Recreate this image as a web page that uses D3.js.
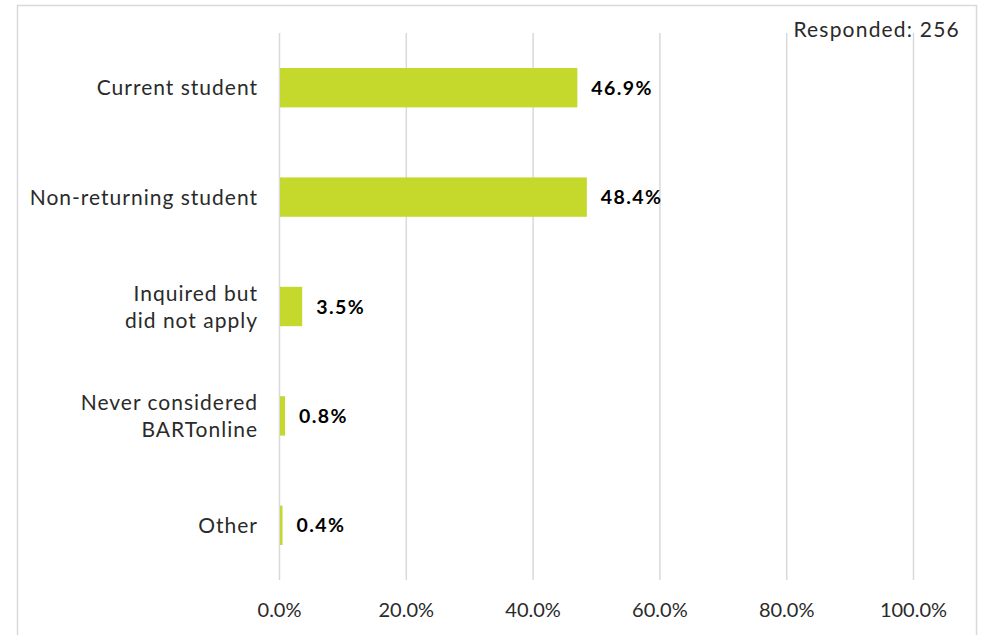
<!DOCTYPE html>
<html>
<head>
<meta charset="utf-8">
<script src="https://cdn.jsdelivr.net/npm/d3@7"></script>
<style>
  html, body { margin: 0; padding: 0; background: #fff; }
  svg text { font-family: "Lato", "DejaVu Sans", sans-serif; }
</style>
</head>
<body>
<svg id="chart" width="982" height="635"></svg>
<script>
// Survey responses by student status
const categories = [
  ["Current student"],
  ["Non-returning student"],
  ["Inquired but", "did not apply"],
  ["Never considered", "BARTonline"],
  ["Other"]
];
const values = [46.9, 48.4, 3.5, 0.8, 0.4];
const valueLabels = ["46.9%", "48.4%", "3.5%", "0.8%", "0.4%"];
const tickValues = [0, 20, 40, 60, 80, 100];
const tickLabels = ["0.0%", "20.0%", "40.0%", "60.0%", "80.0%", "100.0%"];
const responded = "Responded: 256";

const svg = d3.select("#chart");
const margin = { top: 33, left: 279, right: 69, bottom: 55 };
const W = 982, H = 635;

// outer frame
svg.append("rect")
  .attr("x", 17.5).attr("y", 5.5)
  .attr("width", 959).attr("height", 640)
  .attr("fill", "none").attr("stroke", "#d9d9d9").attr("stroke-width", 1.5);

const x = d3.scaleLinear().domain([0, 100]).range([margin.left, W - margin.right]);
const y = d3.scaleBand().domain(d3.range(categories.length))
  .range([margin.top, H - margin.bottom]).paddingInner(0.64).paddingOuter(0.32);

// vertical gridlines
svg.append("g").selectAll("line").data(tickValues).join("line")
  .attr("x1", d => x(d) + 0.5).attr("x2", d => x(d) + 0.5)
  .attr("y1", margin.top).attr("y2", H - margin.bottom)
  .attr("stroke", "#d9d9d9").attr("stroke-width", 1.5);

// x axis tick labels
const xAxis = d3.axisBottom(x).tickValues(tickValues)
  .tickFormat((d, i) => tickLabels[i]).tickSize(0).tickPadding(0);
const gx = svg.append("g").attr("transform", `translate(0, 617)`).call(xAxis);
gx.select(".domain").remove();
gx.selectAll("text").attr("font-size", 20).attr("fill", "#2a2a2a")
  .attr("y", 0).attr("dy", 0)
  .style("font-family", "Lato, 'DejaVu Sans', sans-serif");

// bars
svg.append("g").selectAll("rect").data(values).join("rect")
  .attr("x", x(0) + 1).attr("y", (d, i) => y(i))
  .attr("width", d => Math.max(x(d) - x(0), 2.5)).attr("height", y.bandwidth())
  .attr("fill", "#c5d92d");

// value labels
svg.append("g").selectAll("text").data(values).join("text")
  .attr("x", d => Math.max(x(d), x(0) + 2.5) + 15)
  .attr("y", (d, i) => y(i) + y.bandwidth() / 2)
  .attr("dy", "0.36em")
  .attr("font-size", 19.5).attr("font-weight", "bold").attr("fill", "#000")
  .style("letter-spacing", "1.4px")
  .text((d, i) => valueLabels[i]);

// category labels
const catG = svg.append("g");
categories.forEach((lines, i) => {
  const cy = y(i) + y.bandwidth() / 2;
  const lh = 27;
  const t = catG.append("text")
    .attr("text-anchor", "end")
    .attr("font-size", 21).attr("fill", "#2a2a2a")
    .style("letter-spacing", "1px");
  lines.forEach((ln, j) => {
    t.append("tspan").attr("x", 258)
      .attr("y", cy + (j - (lines.length - 1) / 2) * lh)
      .attr("dy", "0.36em").text(ln);
  });
});

// respondents count
svg.append("text")
  .attr("x", 960).attr("y", 37).attr("text-anchor", "end")
  .attr("font-size", 21).attr("fill", "#2a2a2a")
  .style("letter-spacing", "1.2px").text(responded);
</script>
</body>
</html>
